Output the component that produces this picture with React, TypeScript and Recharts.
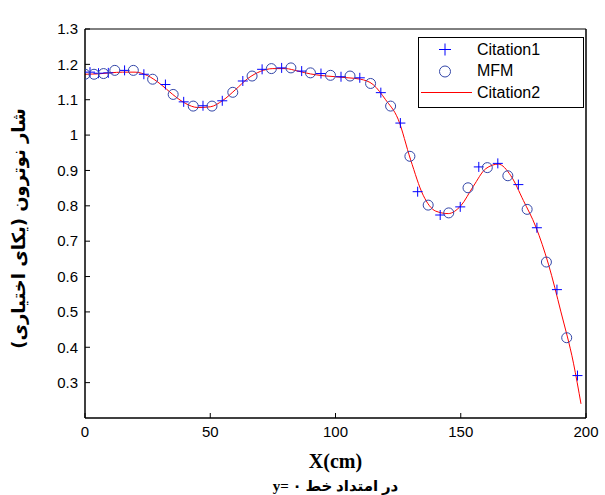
import React from "react";
import {
  ComposedChart,
  Legend,
  Line,
  Scatter,
  XAxis,
  YAxis,
} from "recharts";

// Citation1 (blue plus markers)
const citation1X = [2, 5.4, 9.3, 15.8, 23.5, 32.1, 39.4, 47.1, 54.8, 63, 70.7, 78.5, 86.5, 94.2, 102.2, 109.7, 118.1, 125.9, 132.8, 141.8, 149.8, 157.2, 164.8, 173, 180.4, 188.4, 196.6];
const citation1Y = [1.178, 1.175, 1.176, 1.183, 1.172, 1.143, 1.094, 1.083, 1.097, 1.153, 1.186, 1.19, 1.181, 1.174, 1.165, 1.162, 1.12, 1.034, 0.84, 0.774, 0.797, 0.91, 0.92, 0.86, 0.738, 0.563, 0.32];

// MFM (circle markers)
const mfmX = [0, 3.6, 7.4, 11.9, 19.3, 27, 35.2, 43.2, 50.7, 59, 66.7, 74.4, 82.2, 90, 98, 105.8, 114, 122, 129.7, 137, 145.2, 152.9, 160.6, 168.8, 176.5, 184.2, 192.3];
const mfmY = [1.172, 1.172, 1.174, 1.183, 1.183, 1.158, 1.115, 1.082, 1.082, 1.121, 1.167, 1.188, 1.19, 1.176, 1.169, 1.167, 1.146, 1.082, 0.94, 0.802, 0.78, 0.851, 0.908, 0.885, 0.79, 0.641, 0.427];

// Citation2 (red curve)
const citation2X = [0, 5, 10, 15, 20, 25, 30, 35, 40, 45, 50, 55, 60, 65, 70, 75, 80, 85, 90, 95, 100, 105, 110, 115, 120, 125, 130, 135, 140, 145, 150, 155, 160, 165, 170, 175, 180, 185, 190, 195, 198];
const citation2Y = [1.172, 1.173, 1.176, 1.178, 1.178, 1.168, 1.145, 1.115, 1.09, 1.078, 1.08, 1.098, 1.128, 1.16, 1.18, 1.188, 1.188, 1.181, 1.173, 1.168, 1.165, 1.162, 1.158, 1.143, 1.1, 1.045, 0.93, 0.83, 0.785, 0.778, 0.8, 0.855, 0.905, 0.918, 0.885, 0.815, 0.74, 0.635, 0.5, 0.355, 0.24];

const xTicks = [0, 50, 100, 150, 200];
const yTicks = [0.3, 0.4, 0.5, 0.6, 0.7, 0.8, 0.9, 1, 1.1, 1.2, 1.3];

const seriesNames = ["Citation1", "MFM", "Citation2"];
const xTitle = "X(cm)";
const xSubtitle = "در امتداد خط y= ۰";
const yTitle = "شار نوترون (یکای اختیاری)";

const zip = (xs: number[], ys: number[]) => xs.map((x, i) => ({ x, y: ys[i] }));
const citation1 = zip(citation1X, citation1Y);
const mfm = zip(mfmX, mfmY);
const citation2 = zip(citation2X, citation2Y);

const PLUS = "#0000ff";
const CIRCLE = "#3346a8";
const RED = "#ff0000";
const SANS = "'Liberation Sans', Arial, sans-serif";

const PlusShape = (props: any) => {
  const { cx, cy } = props;
  return (
    <path
      d={`M${cx - 5},${cy}H${cx + 5}M${cx},${cy - 5}V${cy + 5}`}
      stroke={PLUS}
      strokeWidth={1}
      fill="none"
    />
  );
};

const CircleShape = (props: any) => {
  const { cx, cy } = props;
  return <circle cx={cx} cy={cy} r={5} stroke={CIRCLE} strokeWidth={1} fill="none" />;
};

const fmt = (v: number) => String(Number(v.toFixed(1)));

const BottomTick = (props: any) => {
  const { x, y, payload } = props;
  return (
    <g>
      <line x1={x} x2={x} y1={y - 8} y2={y - 13} stroke="#000" />
      <text x={x} y={y} dy="0.71em" textAnchor="middle" fontSize={15} fontFamily={SANS} fill="#000">
        {fmt(payload.value)}
      </text>
    </g>
  );
};

const LeftTick = (props: any) => {
  const { x, y, payload } = props;
  return (
    <g>
      <line x1={x + 7} x2={x + 12} y1={y} y2={y} stroke="#000" />
      <text x={x} y={y} dy="0.35em" textAnchor="end" fontSize={15} fontFamily={SANS} fill="#000">
        {fmt(payload.value)}
      </text>
    </g>
  );
};

const NoTick = () => <g />;

const XTitle = (props: any) => {
  const { viewBox } = props;
  const cx = viewBox.x + viewBox.width / 2;
  return (
    <g>
      <text x={cx} y={viewBox.y + 50} textAnchor="middle" fontSize={20} fontWeight="bold" fontFamily="'Liberation Serif', 'Times New Roman', serif" fill="#000">
        {xTitle}
      </text>
      <text x={cx} y={viewBox.y + 73} textAnchor="middle" direction="rtl" fontSize={15} fontWeight="bold" fontFamily="'Liberation Serif', 'DejaVu Sans', serif" fill="#000">
        {xSubtitle}
      </text>
    </g>
  );
};

const YTitle = (props: any) => {
  const { viewBox } = props;
  const cx = viewBox.x - 22;
  const cy = viewBox.y + viewBox.height / 2 + 5;
  return (
    <text
      x={cx}
      y={cy}
      transform={`rotate(-90 ${cx} ${cy})`}
      textAnchor="middle"
      dominantBaseline="central"
      direction="rtl"
      fontSize={18}
      fontWeight="bold"
      fontFamily="'DejaVu Sans', sans-serif"
      fill="#000"
    >
      {yTitle}
    </text>
  );
};

const LegendBox = () => (
  <div
    style={{
      border: "1px solid #000",
      background: "#fff",
      width: 166,
      height: 71,
      boxSizing: "border-box",
      fontFamily: SANS,
      fontSize: 16,
      color: "#000",
      paddingTop: 1,
    }}
  >
    {seriesNames.map((name, i) => (
      <div key={name} style={{ display: "flex", alignItems: "center", height: 21.5 }}>
        <svg width={58} height={21} style={{ flex: "none" }}>
          {i === 0 && <path d="M20,10.5H32M26,4.5V16.5" stroke={PLUS} fill="none" />}
          {i === 1 && <circle cx={26} cy={10.5} r={5.5} stroke={CIRCLE} fill="none" />}
          {i === 2 && <line x1={2} x2={53} y1={10.5} y2={10.5} stroke={RED} strokeWidth={1.2} />}
        </svg>
        <span>{name}</span>
      </div>
    ))}
  </div>
);

export default function App() {
  return (
    <div style={{ position: "absolute", left: 0, top: 0, width: 605, height: 495, background: "#fff" }}>
      <ComposedChart
        width={605}
        height={495}
        margin={{ top: 29, right: 19, bottom: 47, left: 40 }}
      >
        <XAxis
          dataKey="x"
          type="number"
          domain={[0, 200]}
          ticks={xTicks}
          tickSize={0}
          tickMargin={8}
          tickLine={false}
          tick={<BottomTick />}
          axisLine={{ stroke: "#000", strokeWidth: 1.5 }}
          height={30}
          allowDataOverflow
          label={<XTitle />}
        />
        <XAxis
          xAxisId="top"
          dataKey="x"
          type="number"
          orientation="top"
          mirror
          domain={[0, 200]}
          ticks={xTicks}
          tickSize={5}
          tick={<NoTick />}
          tickLine={{ stroke: "#000" }}
          axisLine={{ stroke: "#000" }}
        />
        <YAxis
          dataKey="y"
          type="number"
          domain={[0.2, 1.3]}
          ticks={yTicks}
          tickSize={0}
          tickMargin={7}
          tickLine={false}
          tick={<LeftTick />}
          axisLine={{ stroke: "#000", strokeWidth: 1.5 }}
          width={45}
          allowDataOverflow
          label={<YTitle />}
        />
        <YAxis
          yAxisId="right"
          dataKey="y"
          type="number"
          orientation="right"
          mirror
          domain={[0.2, 1.3]}
          ticks={yTicks}
          tickSize={5}
          tick={<NoTick />}
          tickLine={{ stroke: "#000" }}
          axisLine={{ stroke: "#000", strokeWidth: 1.5 }}
        />
        <Legend
          layout="vertical"
          align="center"
          verticalAlign="middle"
          content={<LegendBox />}
          wrapperStyle={{ left: 418, top: 37, width: 166, height: 71 }}
        />
        <Scatter name="Citation1" data={citation1} shape={<PlusShape />} isAnimationActive={false} />
        <Scatter name="MFM" data={mfm} shape={<CircleShape />} isAnimationActive={false} />
        <Line
          name="Citation2"
          data={citation2}
          dataKey="y"
          type="monotone"
          stroke={RED}
          strokeWidth={1}
          dot={false}
          activeDot={false}
          isAnimationActive={false}
        />
      </ComposedChart>
    </div>
  );
}
